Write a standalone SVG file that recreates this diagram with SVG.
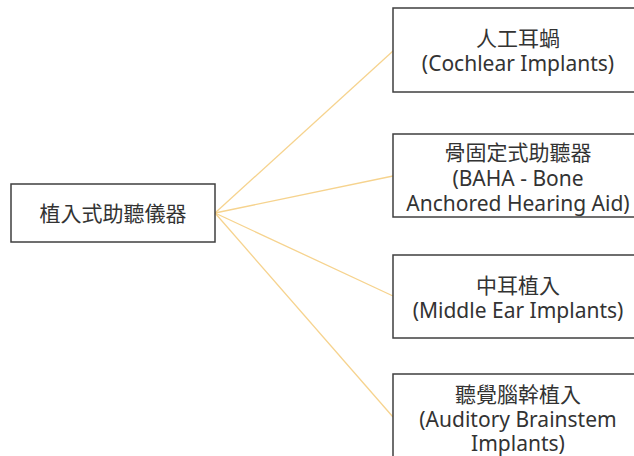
<svg xmlns="http://www.w3.org/2000/svg" width="634" height="456" viewBox="0 0 634 456">
<style>
.box{fill:#fff;stroke:#3f3f3f;stroke-width:1.5}
.lbl{font-family:"Noto Sans","Noto Sans CJK TC",sans-serif;font-size:21px;fill:#333;text-anchor:middle}
.con{stroke:#f6d38e;stroke-width:1.3;fill:none}
</style>
<rect width="634" height="456" fill="#fff"/>
<g id="connectors">
<line class="con" x1="215" y1="213" x2="393" y2="51"/>
<line class="con" x1="215" y1="213" x2="393" y2="176"/>
<line class="con" x1="215" y1="213" x2="393" y2="296"/>
<line class="con" x1="215" y1="213" x2="393" y2="417"/>
</g>
<g id="root">
<rect class="box" x="11" y="184" width="204" height="58"/>
<text class="lbl" x="113" y="221">植入式助聽儀器</text>
</g>
<g id="cochlear">
<rect class="box" x="393" y="8" width="250" height="84"/>
<text class="lbl" x="518" y="46">人工耳蝸</text>
<text class="lbl" x="518" y="71">(Cochlear Implants)</text>
</g>
<g id="baha">
<rect class="box" x="393" y="134" width="250" height="83"/>
<text class="lbl" x="518" y="160">骨固定式助聽器</text>
<text class="lbl" x="518" y="186">(BAHA - Bone</text>
<text class="lbl" x="518" y="211">Anchored Hearing Aid)</text>
</g>
<g id="middle-ear">
<rect class="box" x="393" y="255" width="250" height="83"/>
<text class="lbl" x="518" y="293">中耳植入</text>
<text class="lbl" x="518" y="318">(Middle Ear Implants)</text>
</g>
<g id="brainstem">
<rect class="box" x="393" y="374" width="250" height="90"/>
<text class="lbl" x="518" y="402">聽覺腦幹植入</text>
<text class="lbl" x="518" y="427">(Auditory Brainstem</text>
<text class="lbl" x="518" y="451">Implants)</text>
</g>
</svg>
